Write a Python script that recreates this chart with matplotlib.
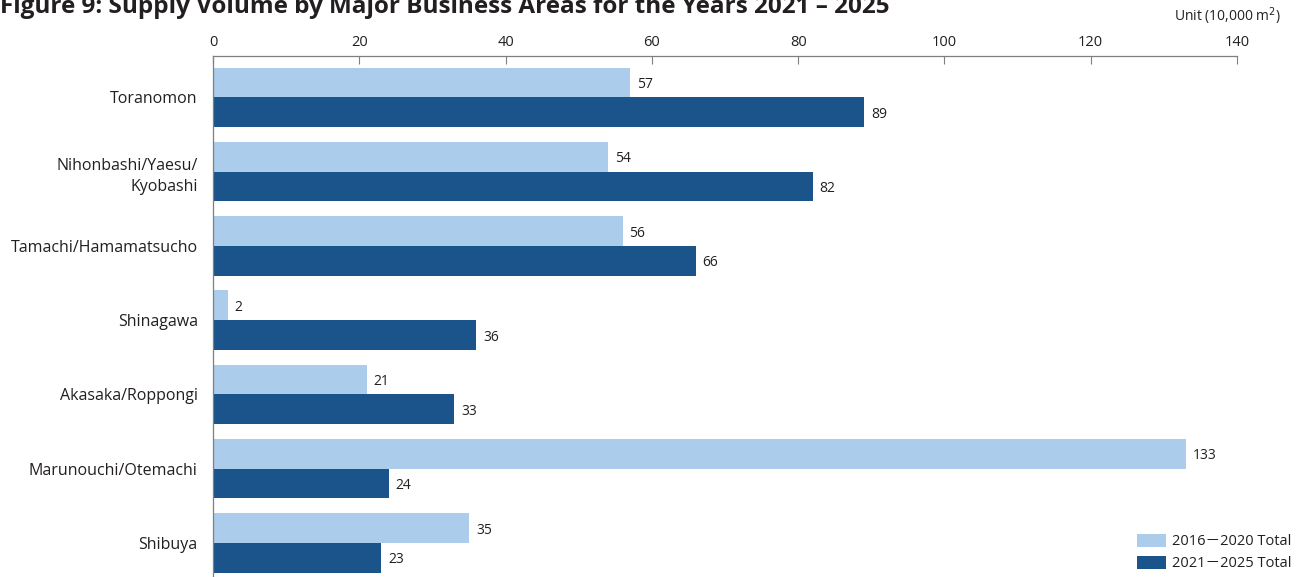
import matplotlib
matplotlib.use("Agg")
import matplotlib.pyplot as plt
import numpy as np
from matplotlib.patches import Patch

plt.rcParams['font.family'] = ['Open Sans', 'Noto Sans CJK JP', 'DejaVu Sans']

AREAS = ["Toranomon", "Nihonbashi/Yaesu/\nKyobashi", "Tamachi/Hamamatsucho", "Shinagawa",
         "Akasaka/Roppongi", "Marunouchi/Otemachi", "Shibuya"]
SUPPLY_2016_2020 = [57, 54, 56, 2, 21, 133, 35]
SUPPLY_2021_2025 = [89, 82, 66, 36, 33, 24, 23]
LABEL_OLD = "2016\uff0d2020 Total"
LABEL_NEW = "2021\uff0d2025 Total"
XTICKS = [0, 20, 40, 60, 80, 100, 120, 140]

LIGHT = "#abcceb"
DARK = "#1a548b"
AXIS_GRAY = "#7f7f7f"
TEXT = "#231f20"

W, H = 1305, 577
fig = plt.figure(figsize=(W / 100, H / 100), dpi=100)

# axes box in pixels: x 213..1237, top 56, extends past the bottom edge
left, right, top = 213, 1237, 56
n = len(AREAS)
pitch = 74.3
ax_h = (n + 0.11) * pitch
ax = fig.add_axes([left / W, (H - top - ax_h) / H, (right - left) / W, ax_h / H])

y = np.arange(n)
bh = 0.4
ax.barh(y - bh / 2, SUPPLY_2016_2020, height=bh, color=LIGHT, label=LABEL_OLD)
ax.barh(y + bh / 2, SUPPLY_2021_2025, height=bh, color=DARK, label=LABEL_NEW)

for i in range(n):
    ax.annotate(str(SUPPLY_2016_2020[i]), (SUPPLY_2016_2020[i], y[i] - bh / 2),
                xytext=(5, -1.5), textcoords="offset points", va="center", ha="left",
                fontsize=10, color=TEXT)
    ax.annotate(str(SUPPLY_2021_2025[i]), (SUPPLY_2021_2025[i], y[i] + bh / 2),
                xytext=(5, -1.5), textcoords="offset points", va="center", ha="left",
                fontsize=10, color=TEXT)

ax.set_xlim(0, 140)
ax.set_ylim(n - 0.445, -0.555)
ax.set_xticks(XTICKS)
ax.xaxis.tick_top()
ax.tick_params(axis="x", direction="in", length=6, width=0.8, color=AXIS_GRAY,
               labelsize=10.5, labelcolor=TEXT, pad=4)
ax.set_yticks(y)
ax.set_yticklabels(AREAS, fontsize=11.5, color=TEXT, ha="right", linespacing=1.45)
ax.tick_params(axis="y", length=0, pad=11)

for s in ["right", "bottom"]:
    ax.spines[s].set_visible(False)
for s in ["top", "left"]:
    ax.spines[s].set_color(AXIS_GRAY)
    ax.spines[s].set_linewidth(0.9)

# title runs off the top edge, as in the source image
fig.text(0.0, 1 - 13 / H, "Figure 9: Supply Volume by Major Business Areas for the Years 2021 \u2013 2025",
         fontsize=17.5, fontweight="bold", color=TEXT, ha="left", va="baseline")
fig.text(1281 / W, 1 - 21 / H, "Unit (10,000 m$^2$)", fontsize=10, color=TEXT,
         ha="right", va="baseline")

handles = [Patch(facecolor=LIGHT, label=LABEL_OLD), Patch(facecolor=DARK, label=LABEL_NEW)]
fig.legend(handles=handles, loc="lower right", bbox_to_anchor=(1297 / W, 0.0),
           frameon=False, fontsize=10.5, handlelength=2.0, handleheight=1.0,
           handletextpad=0.4, labelspacing=0.45, borderaxespad=0.0,
           labelcolor=TEXT)

fig.savefig("out.png", dpi=100)
